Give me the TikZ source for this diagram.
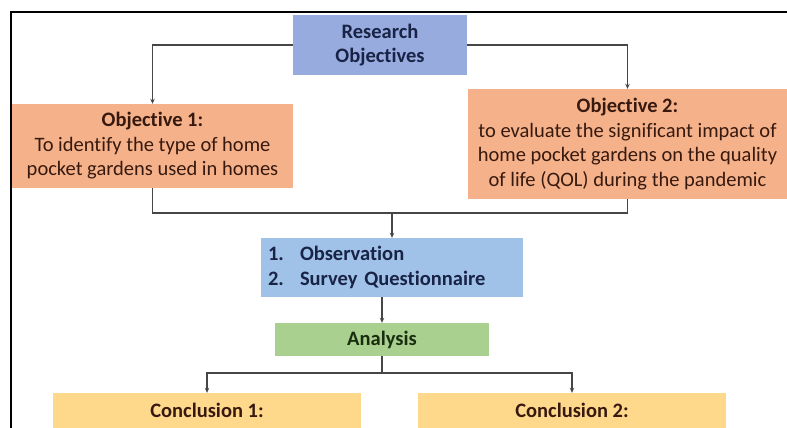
\documentclass[tikz,border=0pt]{standalone}
\usepackage{fontspec}
\setmainfont{Carlito}[Ligatures=NoCommon]
\usepackage{tikz}
\usetikzlibrary{arrows.meta}
\usetikzlibrary{calc}

\definecolor{resblue}{RGB}{151,171,223}
\definecolor{objsalmon}{RGB}{245,178,138}
\definecolor{obsblue}{RGB}{160,194,232}
\definecolor{anagreen}{RGB}{169,208,142}
\definecolor{conyellow}{RGB}{254,217,140}
\definecolor{linegray}{RGB}{70,70,70}
\definecolor{navytext}{RGB}{25,35,70}
\definecolor{browntext}{RGB}{55,25,15}
\definecolor{greentext}{RGB}{25,45,15}

\tikzset{
    box/.style={inner sep=3pt, align=center, font=\fontsize{20.5}{24.5}\selectfont},
    boldbox/.style={box, font=\fontsize{20.5}{24.5}\selectfont\bfseries},
    link/.style={draw=linegray, line width=1.4pt},
    arr/.style={link, -{Stealth[length=5pt,width=4.5pt]}},
}

\begin{document}
\begin{tikzpicture}[x=1pt, y=-1pt]
    \useasboundingbox (0,0) rectangle (787,428);
    % Frame
    \draw[line width=1.5pt] (11,428) -- (11,12) -- (787,12);

    % Boxes
    \node[boldbox, fill=resblue, text=navytext,
          minimum width=174pt, minimum height=60pt] (research) at (380,45) {Research\\Objectives};
    \node[box, fill=objsalmon, text=browntext, minimum width=281pt, minimum height=84pt]
          (obj1) at (152.5,146) {{\bfseries Objective 1:}\\To identify the type of home\\pocket gardens used in homes};
    \node[box, fill=objsalmon, text=browntext, minimum width=319pt, minimum height=110pt]
          (obj2) at (627.5,144) {{\bfseries Objective 2:}\\to evaluate the significant impact of\\home pocket gardens on the quality\\of life (QOL) during the pandemic};
    \node[boldbox, fill=obsblue, text=navytext, align=left,
          inner xsep=7pt, text width=248pt, minimum height=59pt] (obs) at (392,267.5)
          {\makebox[32pt][l]{1.}Observation\\\makebox[32pt][l]{2.}Survey Questionnaire};
    \node[boldbox, fill=anagreen, text=greentext,
          minimum width=214pt, minimum height=33pt] (analysis) at (382,339.5) {Analysis};
    \node[boldbox, fill=conyellow, text=browntext,
          minimum width=308pt, minimum height=35pt] (con1) at (207,410.5) {Conclusion 1:};
    \node[boldbox, fill=conyellow, text=browntext,
          minimum width=308pt, minimum height=35pt] (con2) at (572,410.5) {Conclusion 2:};

    % Connectors
    \coordinate (join1) at (392,213); % merge of both objectives
    \coordinate (join2) at (382,373); % split to conclusions
    \draw[arr] (research.west) -| (obj1.north);
    \draw[arr] (research.east) -| (obj2.north);
    \draw[link] (obj1.south) |- (join1) -| (obj2.south);
    \draw[arr] (join1) -- (obs.north);
    \draw[arr] (analysis.north |- obs.south) -- (analysis.north);
    \draw[link] (analysis.south) -- (join2);
    \draw[arr] (join2) -| (con1.north);
    \draw[arr] (join2) -| (con2.north);
\end{tikzpicture}
\end{document}
